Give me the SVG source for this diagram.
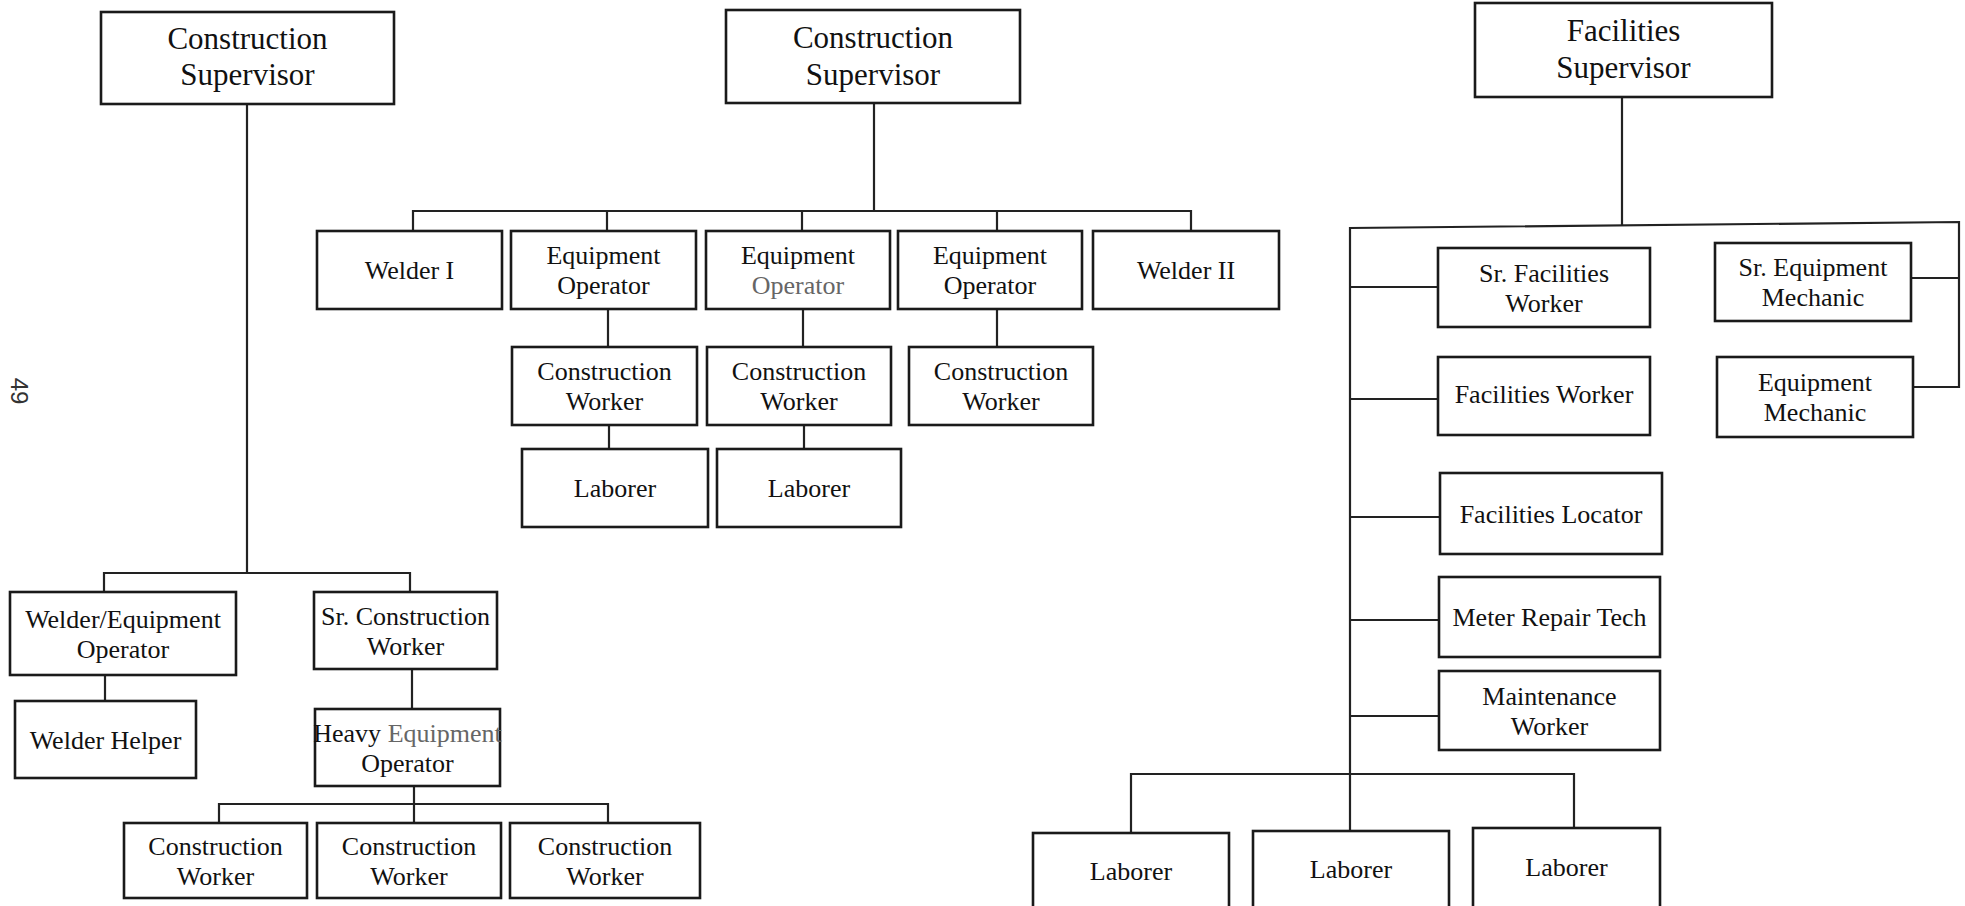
<svg xmlns="http://www.w3.org/2000/svg" width="1965" height="906" viewBox="0 0 1965 906">
<style>
.box{fill:#fff;stroke:#1a1a1a;stroke-width:2.6}
.ln{fill:none;stroke:#222;stroke-width:2.2}
.t{font-family:"Liberation Serif","Times New Roman",serif;font-size:26px;fill:#111;text-anchor:middle}
.ts{font-size:31px}
.g{fill:#666}
</style>
<rect width="1965" height="906" fill="#fff"/>
<g id="connectors">
<path class="ln" d="M247,104 V573 M104,592 V573 H410 V592 M105,675 V701 M412,669 V709 M414,786 V804 M219,823 V804 H608 V823 M414,804 V823"/>
<path class="ln" d="M874,103 V211 M413,231 V211 H1191 V231 M607,211 V231 M802,211 V231 M997,211 V231 M608,309 V347 M609,425 V449 M803,309 V347 M804,425 V449 M997,309 V347"/>
<path class="ln" d="M1622,97 V225 M1350,832 V228 L1959,222 V387 H1913 M1911,278 H1959 M1350,287 H1438 M1350,399 H1438 M1350,517 H1440 M1350,620 H1439 M1350,716 H1439 M1131,832 V774 H1574 V828"/>
</g>
<g id="page-number"><text transform="translate(11,391) rotate(90)" font-family="'Liberation Sans',Arial,sans-serif" font-size="24" fill="#333" text-anchor="middle">49</text></g>

<g id="left-supervisor"><rect class="box" x="101" y="12" width="293" height="92"/><text class="t ts" x="247.5" y="49">Construction</text><text class="t ts" x="247.5" y="85">Supervisor</text></g>
<g id="welder-equipment-operator"><rect class="box" x="10" y="592" width="226" height="83"/><text class="t" x="123" y="627.5">Welder/Equipment</text><text class="t" x="123" y="657.5">Operator</text></g>
<g id="sr-construction-worker"><rect class="box" x="314" y="592" width="183" height="77"/><text class="t" x="405.5" y="624.5">Sr. Construction</text><text class="t" x="405.5" y="654.5">Worker</text></g>
<g id="welder-helper"><rect class="box" x="15" y="701" width="181" height="77"/><text class="t" x="105.5" y="749">Welder Helper</text></g>
<g id="heavy-equipment-operator"><rect class="box" x="315" y="709" width="185" height="77"/><text class="t" x="407.5" y="741.5" font-size="24">Heavy <tspan class="g">Equipment</tspan></text><text class="t" x="407.5" y="771.5">Operator</text></g>
<g id="left-cw1"><rect class="box" x="124" y="823" width="183" height="75"/><text class="t" x="215.5" y="854.5">Construction</text><text class="t" x="215.5" y="884.5">Worker</text></g>
<g id="left-cw2"><rect class="box" x="317" y="823" width="184" height="75"/><text class="t" x="409" y="854.5">Construction</text><text class="t" x="409" y="884.5">Worker</text></g>
<g id="left-cw3"><rect class="box" x="510" y="823" width="190" height="75"/><text class="t" x="605" y="854.5">Construction</text><text class="t" x="605" y="884.5">Worker</text></g>

<g id="mid-supervisor"><rect class="box" x="726" y="10" width="294" height="93"/><text class="t ts" x="873" y="47.5">Construction</text><text class="t ts" x="873" y="84.5">Supervisor</text></g>
<g id="welder-1"><rect class="box" x="317" y="231" width="185" height="78"/><text class="t" x="409.5" y="279">Welder I</text></g>
<g id="eqop-1"><rect class="box" x="511" y="231" width="185" height="78"/><text class="t" x="603.5" y="264">Equipment</text><text class="t" x="603.5" y="294">Operator</text></g>
<g id="eqop-2"><rect class="box" x="706" y="231" width="184" height="78"/><text class="t" x="798" y="264">Equipment</text><text class="t g" x="798" y="294">Operator</text></g>
<g id="eqop-3"><rect class="box" x="898" y="231" width="184" height="78"/><text class="t" x="990" y="264">Equipment</text><text class="t" x="990" y="294">Operator</text></g>
<g id="welder-2"><rect class="box" x="1093" y="231" width="186" height="78"/><text class="t" x="1186" y="279">Welder II</text></g>
<g id="mid-cw1"><rect class="box" x="512" y="347" width="185" height="78"/><text class="t" x="604.5" y="380">Construction</text><text class="t" x="604.5" y="410">Worker</text></g>
<g id="mid-cw2"><rect class="box" x="707" y="347" width="184" height="78"/><text class="t" x="799" y="380">Construction</text><text class="t" x="799" y="410">Worker</text></g>
<g id="mid-cw3"><rect class="box" x="909" y="347" width="184" height="78"/><text class="t" x="1001" y="380">Construction</text><text class="t" x="1001" y="410">Worker</text></g>
<g id="mid-lab1"><rect class="box" x="522" y="449" width="186" height="78"/><text class="t" x="615" y="497">Laborer</text></g>
<g id="mid-lab2"><rect class="box" x="717" y="449" width="184" height="78"/><text class="t" x="809" y="497">Laborer</text></g>

<g id="facilities-supervisor"><rect class="box" x="1475" y="3" width="297" height="94"/><text class="t ts" x="1623.5" y="41">Facilities</text><text class="t ts" x="1623.5" y="78">Supervisor</text></g>
<g id="sr-facilities-worker"><rect class="box" x="1438" y="248" width="212" height="79"/><text class="t" x="1544" y="281.5">Sr. Facilities</text><text class="t" x="1544" y="311.5">Worker</text></g>
<g id="facilities-worker"><rect class="box" x="1438" y="357" width="212" height="78"/><text class="t" x="1544" y="403">Facilities Worker</text></g>
<g id="sr-equipment-mechanic"><rect class="box" x="1715" y="243" width="196" height="78"/><text class="t" x="1813" y="276">Sr. Equipment</text><text class="t" x="1813" y="306">Mechanic</text></g>
<g id="equipment-mechanic"><rect class="box" x="1717" y="357" width="196" height="80"/><text class="t" x="1815" y="391">Equipment</text><text class="t" x="1815" y="421">Mechanic</text></g>
<g id="facilities-locator"><rect class="box" x="1440" y="473" width="222" height="81"/><text class="t" x="1551" y="523">Facilities Locator</text></g>
<g id="meter-repair-tech"><rect class="box" x="1439" y="577" width="221" height="80"/><text class="t" x="1549.5" y="626">Meter Repair Tech</text></g>
<g id="maintenance-worker"><rect class="box" x="1439" y="671" width="221" height="79"/><text class="t" x="1549.5" y="704.5">Maintenance</text><text class="t" x="1549.5" y="734.5">Worker</text></g>
<g id="fac-lab1"><rect class="box" x="1033" y="833" width="196" height="84"/><text class="t" x="1131" y="880">Laborer</text></g>
<g id="fac-lab2"><rect class="box" x="1253" y="831" width="196" height="84"/><text class="t" x="1351" y="878">Laborer</text></g>
<g id="fac-lab3"><rect class="box" x="1473" y="828" width="187" height="84"/><text class="t" x="1566.5" y="876">Laborer</text></g>
</svg>
